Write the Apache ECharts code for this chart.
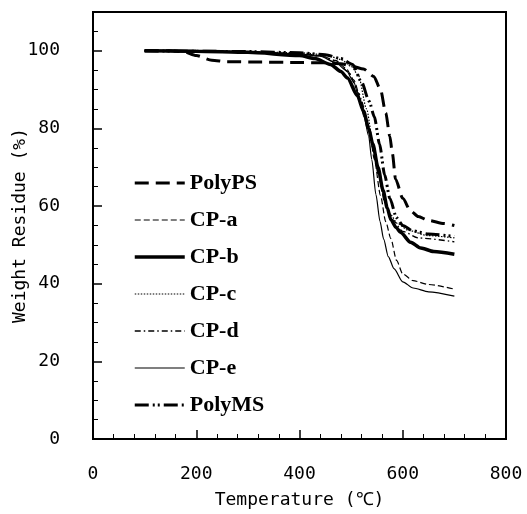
<!DOCTYPE html>
<html>
<head>
<meta charset="utf-8">
<script src="https://cdn.jsdelivr.net/npm/echarts@6/dist/echarts.min.js"></script>
<style>html,body{margin:0;padding:0;background:#fff}#c{width:527px;height:514px}</style>
</head>
<body>
<div id="c"></div>
<script>
const seriesNames = ['PolyPS','CP-a','CP-b','CP-c','CP-d','CP-e','PolyMS'];
const xTicks = [0,200,400,600,800];
const yTicks = [0,20,40,60,80,100];

const tPolyPS = [100,150,175,200,230,260,320,400,450,480,503,524,544,557,567,575,580,586,600,615,630,650,680,700];
const wPolyPS = [100,100,99.8,98.8,97.6,97.2,97.1,97,96.9,96.7,96,95.3,93.4,90,84,78,73.5,67,62,58.8,57.3,56.3,55.5,55];

const tCPa = [100,200,300,400,440,470,490,505,520,535,545,557,567,577,588,600,620,650,700];
const wCPa = [100,99.9,99.7,99.3,98.8,97.5,95.5,92.5,87,80,72,62.7,56,51.6,46,42.5,40.8,39.8,38.6];

const tCPb = [100,200,300,400,430,460,480,493,512,524,534,542,552,562,570,577,587,596,615,635,660,700];
const wCPb = [100,99.9,99.6,98.8,98,96.5,94.7,93,88.5,84.5,80,76,70,64,59.5,56.5,54.5,53.2,50.7,49.2,48.3,47.6];

const tCPc = [100,200,300,400,450,480,500,514,530,542,552,562,575,590,610,648,700];
const wCPc = [100,100,99.8,99.5,99,97.8,96,93.7,85,76.6,69,63,58,55.5,53.8,52.4,51.8];

const tCPd = [100,200,300,400,440,470,495,515,530,542,553,565,580,600,630,700];
const wCPd = [100,99.9,99.7,99.2,98.7,97.5,94.5,89,82,75,68,61,56.5,53.5,51.8,50.8];

const tCPe = [100,200,300,400,440,470,490,505,515,525,534,540,548,556,563,572,583,600,620,650,700];
const wCPe = [100,99.9,99.6,99.2,98.6,97,95,92,88,83,78,72,63,56,51.5,47,43.9,40.5,38.9,37.9,36.8];

const tPolyMS = [100,200,300,400,450,480,503,520,535,545,555,565,575,588,600,620,650,700];
const wPolyMS = [100,99.9,99.8,99.5,99,98,96.5,92,87,83,76,68,62,57,55,53.6,52.8,52.2];

const temps = [tPolyPS,tCPa,tCPb,tCPc,tCPd,tCPe,tPolyMS];
const weights = [wPolyPS,wCPa,wCPb,wCPc,wCPd,wCPe,wPolyMS];

const styles = [
  {width:3, type:[14,7]},
  {width:1.2, type:[6,3]},
  {width:3.5, type:'solid'},
  {width:1.2, type:[1.5,1.5]},
  {width:1.3, type:[6,3,1.5,3]},
  {width:1.2, type:'solid'},
  {width:3, type:[14,4,2,3,2,4]}
];

const monoFont = "'DejaVu Sans Mono', monospace";

const series = seriesNames.map((n,i)=>({
  name:n, type:'line', symbol:'none', showSymbol:false, smooth:0.25, smoothMonotone:'x',
  data: temps[i].map((t,j)=>[t, weights[i][j]]),
  lineStyle:{color:'#000', width:styles[i].width, type:styles[i].type},
  itemStyle:{color:'#000'},
  animation:false
}));

const chart = echarts.init(document.getElementById('c'));
chart.setOption({
  animation:false,
  backgroundColor:'#fff',
  grid:{left:93, right:21, top:12, bottom:75, show:true, borderColor:'#000', borderWidth:2,
    backgroundColor:'transparent', containLabel:false, outerBoundsMode:'none'},
  legend:{
    orient:'vertical', left:133, top:172, padding:0, itemWidth:50, itemHeight:20, itemGap:15,
    itemStyle:{opacity:0},
    textStyle:{fontFamily:"'Liberation Serif', serif", fontWeight:'bold', fontSize:22, color:'#000', padding:[0,0,0,0]},
    data: seriesNames.map((n,i)=>({name:n, lineStyle:{color:'#000', width:styles[i].width, type:styles[i].type}}))
  },
  xAxis:{
    type:'value', min:xTicks[0], max:xTicks[xTicks.length-1], interval:200,
    name:'Temperature (℃)', nameLocation:'middle', nameGap:52, nameMoveOverlap:false,
    nameTextStyle:{fontFamily:monoFont, fontSize:18, color:'#000'},
    axisLine:{lineStyle:{color:'#000', width:2}},
    axisTick:{inside:true, length:9, lineStyle:{color:'#000', width:1.5}},
    minorTick:{show:true, splitNumber:5, length:5, lineStyle:{color:'#000', width:1}},
    axisLabel:{fontFamily:monoFont, fontSize:18, color:'#000', margin:26},
    splitLine:{show:false}
  },
  yAxis:{
    type:'value', min:0, max:110, interval:20,
    name:'Weight Residue (%)', nameLocation:'middle', nameGap:64, nameMoveOverlap:false,
    nameTextStyle:{fontFamily:monoFont, fontSize:18, color:'#000'},
    axisLine:{lineStyle:{color:'#000', width:2}},
    axisTick:{inside:true, length:9, lineStyle:{color:'#000', width:1.5}},
    minorTick:{show:true, splitNumber:4, length:5, lineStyle:{color:'#000', width:1}},
    axisLabel:{fontFamily:monoFont, fontSize:18, color:'#000', margin:33, showMaxLabel:false,
      formatter:v=> yTicks.indexOf(v)>=0 ? String(v) : ''},
    splitLine:{show:false}
  },
  series: series
});
</script>
</body>
</html>
